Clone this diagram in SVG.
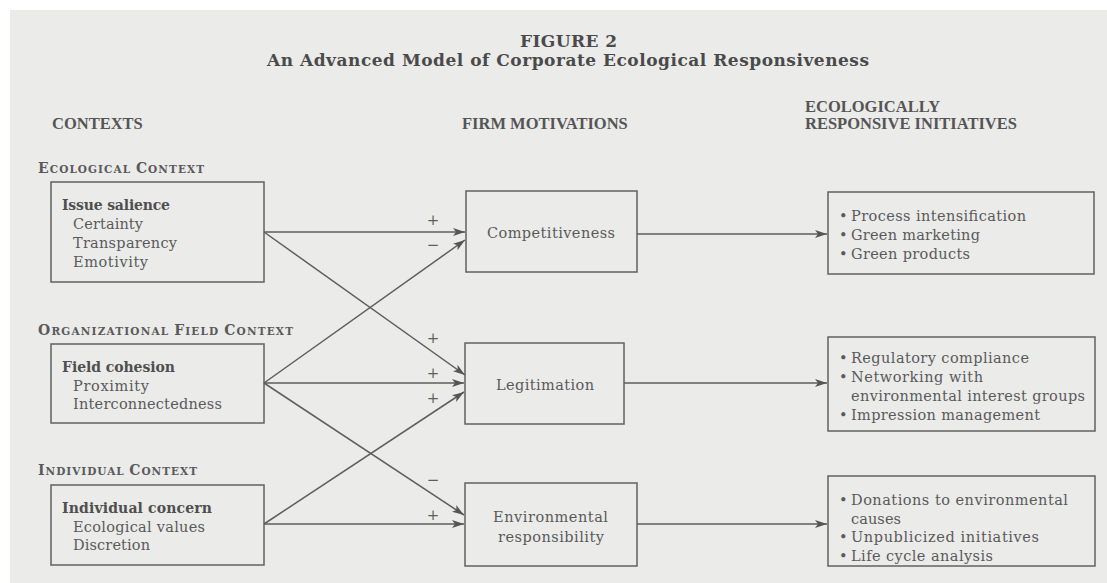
<svg xmlns="http://www.w3.org/2000/svg" width="1107" height="583" viewBox="0 0 1107 583">
  <style>
    .page { fill: #ebebea; }
    .box { fill: none; stroke: #626262; stroke-width: 1.5; }
    .wire { fill: none; stroke: #5e5e5e; stroke-width: 1.5; }
    .title { font-family: "DejaVu Serif", "Liberation Serif", serif; font-weight: bold; font-size: 17px; fill: #4a4a4a; }
    .head { font-family: "Liberation Serif", serif; font-weight: bold; font-size: 16.5px; fill: #555; }
    .cap { font-family: "DejaVu Serif", "Liberation Serif", serif; font-weight: bold; font-size: 14px; fill: #5a5a5a; }
    .cap .sm { font-size: 10.5px; }
    .lead { font-family: "DejaVu Serif", "Liberation Serif", serif; font-weight: bold; font-size: 14px; fill: #4f4f4f; }
    .body { font-family: "DejaVu Serif", "Liberation Serif", serif; font-size: 14.5px; fill: #5a5a5a; }
    .mid { text-anchor: middle; }
    .sign { font-family: "DejaVu Serif", "Liberation Serif", serif; font-size: 15px; fill: #5e5e5e; text-anchor: middle; }
  </style>
  <defs>
    <marker id="arrow" markerUnits="userSpaceOnUse" markerWidth="13" markerHeight="9" refX="12" refY="4.5" orient="auto">
      <path d="M0,0.5 L12,4.5 L0,8.5 L3,4.5 z" fill="#555"/>
    </marker>
  </defs>

  <!-- paper -->
  <rect x="0" y="0" width="1107" height="583" fill="#ffffff"/>
  <rect class="page" x="10" y="10" width="1097" height="573"/>

  <!-- heading -->
  <g id="heading">
    <text class="title" x="520" y="47" textLength="97">FIGURE 2</text>
    <text class="title" x="267" y="66" textLength="602">An Advanced Model of Corporate Ecological Responsiveness</text>
  </g>

  <!-- column headings -->
  <g id="column-heads">
    <text class="head" x="52" y="129">CONTEXTS</text>
    <text class="head" x="462" y="129">FIRM MOTIVATIONS</text>
    <text class="head" x="805" y="112">ECOLOGICALLY</text>
    <text class="head" x="805" y="129">RESPONSIVE INITIATIVES</text>
  </g>

  <!-- context nodes -->
  <g id="ecological-context">
    <text class="cap" x="38" y="173" textLength="166">E<tspan class="sm">COLOGICAL </tspan>C<tspan class="sm">ONTEXT</tspan></text>
    <rect class="box" x="51" y="182" width="213" height="100"/>
    <text class="lead" x="62" y="210" textLength="108">Issue salience</text>
    <text class="body" x="73" y="229" textLength="70">Certainty</text>
    <text class="body" x="73" y="248" textLength="104">Transparency</text>
    <text class="body" x="73" y="267" textLength="75">Emotivity</text>
  </g>

  <g id="field-context">
    <text class="cap" x="38" y="335" textLength="255">O<tspan class="sm">RGANIZATIONAL </tspan>F<tspan class="sm">IELD </tspan>C<tspan class="sm">ONTEXT</tspan></text>
    <rect class="box" x="51" y="344" width="213" height="79"/>
    <text class="lead" x="62" y="372" textLength="113">Field cohesion</text>
    <text class="body" x="73" y="391" textLength="76">Proximity</text>
    <text class="body" x="73" y="409" textLength="149">Interconnectedness</text>
  </g>

  <g id="individual-context">
    <text class="cap" x="38" y="475" textLength="159">I<tspan class="sm">NDIVIDUAL </tspan>C<tspan class="sm">ONTEXT</tspan></text>
    <rect class="box" x="51" y="485" width="213" height="80"/>
    <text class="lead" x="62" y="513" textLength="150">Individual concern</text>
    <text class="body" x="73" y="532" textLength="132">Ecological values</text>
    <text class="body" x="73" y="550" textLength="77">Discretion</text>
  </g>

  <!-- motivation nodes -->
  <g id="competitiveness">
    <rect class="box" x="466" y="191" width="171" height="81"/>
    <text class="body" x="487" y="238" textLength="128">Competitiveness</text>
  </g>

  <g id="legitimation">
    <rect class="box" x="465" y="343" width="159" height="81"/>
    <text class="body" x="496" y="390" textLength="98">Legitimation</text>
  </g>

  <g id="environmental-responsibility">
    <rect class="box" x="465" y="483" width="172" height="83"/>
    <text class="body" x="493" y="522" textLength="115">Environmental</text>
    <text class="body" x="498" y="542" textLength="106">responsibility</text>
  </g>

  <!-- initiative nodes -->
  <g id="competitive-initiatives">
    <rect class="box" x="828" y="192" width="266" height="82"/>
    <text class="body" x="839" y="221">•</text>
    <text class="body" x="851" y="221" textLength="175">Process intensification</text>
    <text class="body" x="839" y="240">•</text>
    <text class="body" x="851" y="240" textLength="129">Green marketing</text>
    <text class="body" x="839" y="259">•</text>
    <text class="body" x="851" y="259" textLength="119">Green products</text>
  </g>

  <g id="legitimation-initiatives">
    <rect class="box" x="828" y="337" width="267" height="94"/>
    <text class="body" x="839" y="363">•</text>
    <text class="body" x="851" y="363" textLength="178">Regulatory compliance</text>
    <text class="body" x="839" y="382">•</text>
    <text class="body" x="851" y="382" textLength="132">Networking with</text>
    <text class="body" x="851" y="401" textLength="234">environmental interest groups</text>
    <text class="body" x="839" y="420">•</text>
    <text class="body" x="851" y="420" textLength="189">Impression management</text>
  </g>

  <g id="responsibility-initiatives">
    <rect class="box" x="828" y="476" width="267" height="90"/>
    <text class="body" x="839" y="505">•</text>
    <text class="body" x="851" y="505" textLength="217">Donations to environmental</text>
    <text class="body" x="851" y="524" textLength="50">causes</text>
    <text class="body" x="839" y="542">•</text>
    <text class="body" x="851" y="542" textLength="188">Unpublicized initiatives</text>
    <text class="body" x="839" y="561">•</text>
    <text class="body" x="851" y="561" textLength="142">Life cycle analysis</text>
  </g>

  <!-- connectors -->
  <g id="connectors">
    <line class="wire" x1="264" y1="232" x2="465" y2="232" marker-end="url(#arrow)"/>
    <line class="wire" x1="264" y1="232" x2="465" y2="375" marker-end="url(#arrow)"/>
    <line class="wire" x1="264" y1="383" x2="465" y2="240" marker-end="url(#arrow)"/>
    <line class="wire" x1="264" y1="383" x2="464" y2="383" marker-end="url(#arrow)"/>
    <line class="wire" x1="264" y1="383" x2="464" y2="515" marker-end="url(#arrow)"/>
    <line class="wire" x1="264" y1="524" x2="464" y2="392" marker-end="url(#arrow)"/>
    <line class="wire" x1="264" y1="524" x2="464" y2="524" marker-end="url(#arrow)"/>
    <line class="wire" x1="637" y1="234" x2="827" y2="234" marker-end="url(#arrow)"/>
    <line class="wire" x1="624" y1="383" x2="827" y2="383" marker-end="url(#arrow)"/>
    <line class="wire" x1="637" y1="524" x2="827" y2="524" marker-end="url(#arrow)"/>

    <!-- signs on the links -->
    <text class="sign" x="433" y="225">+</text>
    <text class="sign" x="433" y="250">−</text>
    <text class="sign" x="433" y="343">+</text>
    <text class="sign" x="433" y="378">+</text>
    <text class="sign" x="433" y="403">+</text>
    <text class="sign" x="433" y="485">−</text>
    <text class="sign" x="433" y="520">+</text>
  </g>
</svg>
